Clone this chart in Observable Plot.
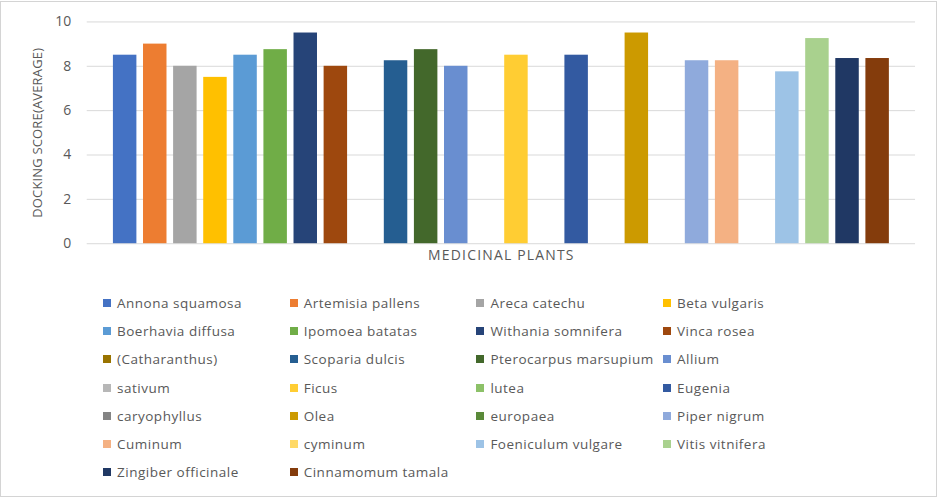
<!DOCTYPE html>
<html>
<head>
<meta charset="utf-8">
<script src="https://cdn.jsdelivr.net/npm/d3@7"></script>
<script src="https://cdn.jsdelivr.net/npm/@observablehq/plot@0.6"></script>
<style>
  html, body { margin: 0; padding: 0; background: #fff; }
  #frame { position: relative; width: 935px; height: 494px; border: 1px solid #d4d4d4; margin: 1px 0 0 0; overflow: hidden; font-family: "Open Sans", sans-serif; }
  #chart { position: absolute; left: -1px; top: -2px; }
  #legend { position: absolute; left: 102px; top: 286.5px; display: grid; grid-template-columns: repeat(4, 186.7px); grid-auto-rows: 28.3px; align-items: center; }
  .item { display: flex; align-items: center; font-size: 13.5px; color: #595959; white-space: nowrap; letter-spacing: 0.5px; }
  .sw { width: 8px; height: 8px; margin-right: 6px; flex: none; }
  .xtitle text { letter-spacing: 1.2px; }
  .ytitle text { letter-spacing: 0.2px; }
</style>
</head>
<body>
<div id="frame"><div id="chart"></div><div id="legend"></div></div>
<script>
const seriesNames = [
  "Annona squamosa", "Artemisia pallens", "Areca catechu", "Beta vulgaris",
  "Boerhavia diffusa", "Ipomoea batatas", "Withania somnifera", "Vinca rosea",
  "(Catharanthus)", "Scoparia dulcis", "Pterocarpus marsupium", "Allium",
  "sativum", "Ficus", "lutea", "Eugenia",
  "caryophyllus", "Olea", "europaea", "Piper nigrum",
  "Cuminum", "cyminum", "Foeniculum vulgare", "Vitis vitnifera",
  "Zingiber officinale", "Cinnamomum tamala"
];
const scores = [
  8.5, 9.0, 8.0, 7.5,
  8.5, 8.75, 9.5, 8.0,
  null, 8.25, 8.75, 8.0,
  null, 8.5, null, 8.5,
  null, 9.5, null, 8.25,
  8.25, null, 7.75, 9.25,
  8.35, 8.35
];
const seriesColors = [
  "#4472C4", "#ED7D31", "#A5A5A5", "#FFC000",
  "#5B9BD5", "#70AD47", "#264478", "#9E480E",
  "#997300", "#255E91", "#43682B", "#698ED0",
  "#B7B7B7", "#FFCD33", "#8CC168", "#335AA1",
  "#848484", "#CC9A00", "#5A8A39", "#8FAADC",
  "#F4B183", "#FFD966", "#9DC3E6", "#A9D18E",
  "#203864", "#843C0C"
];
const yTicks = [0, 2, 4, 6, 8, 10];
const xTitle = "MEDICINAL PLANTS";
const yTitle = "DOCKING SCORE(AVERAGE)";

const data = seriesNames.map((name, i) => ({name, value: scores[i]}));

const plot = Plot.plot({
  width: 939,
  height: 272,
  marginLeft: 87,
  marginRight: 21,
  marginTop: 21.5,
  marginBottom: 28,
  style: {fontFamily: "Open Sans, sans-serif", background: "transparent"},
  x: {domain: seriesNames, paddingInner: 0.22, paddingOuter: 0.87, round: false, axis: null},
  y: {domain: [0, 10]},
  color: {domain: seriesNames, range: seriesColors},
  marks: [
    Plot.gridY(yTicks, {stroke: "#d9d9d9", strokeOpacity: 1, strokeWidth: 1}),
    Plot.axisY(yTicks, {tickSize: 0, tickPadding: 16, fontSize: 14, fill: "#595959", label: null}),
    Plot.barY(data, {x: "name", y: "value", fill: "name"}),
    Plot.text([xTitle], {frameAnchor: "bottom", dy: 16, fontSize: 14, fill: "#595959", text: d => d, className: "xtitle"}),
    Plot.text([yTitle], {frameAnchor: "left", dx: -50, rotate: -90, textAnchor: "middle", fontSize: 13, fill: "#595959", text: d => d, className: "ytitle"})
  ]
});
document.getElementById("chart").appendChild(plot);

const color = plot.scale("color");
const legend = document.getElementById("legend");
seriesNames.forEach((name) => {
  const item = document.createElement("div");
  item.className = "item";
  const sw = document.createElement("span");
  sw.className = "sw";
  sw.style.background = color.apply(name);
  item.appendChild(sw);
  item.appendChild(document.createTextNode(name));
  legend.appendChild(item);
});
</script>
</body>
</html>
